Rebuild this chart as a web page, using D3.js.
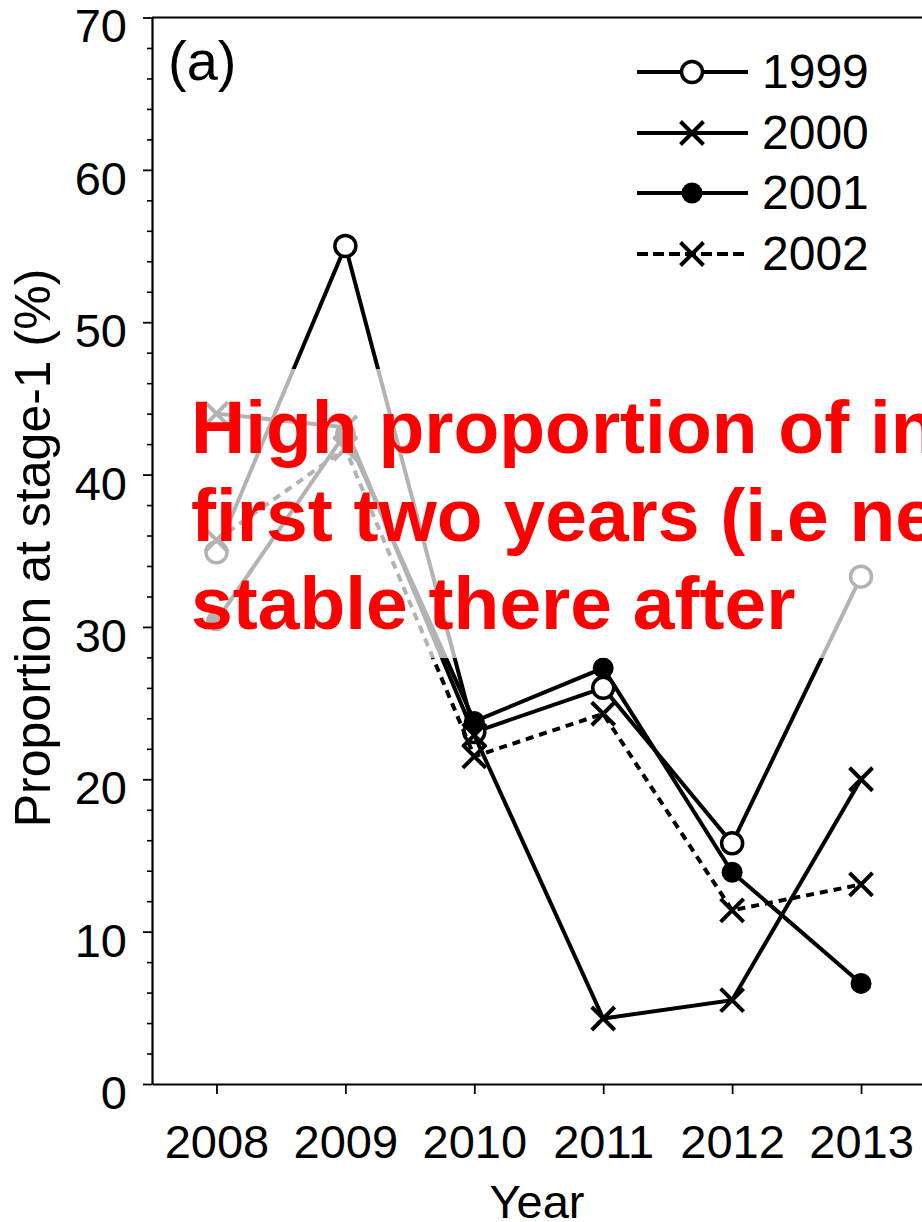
<!DOCTYPE html>
<html>
<head>
<meta charset="utf-8">
<script src="https://cdn.jsdelivr.net/npm/d3@7"></script>
<style>
  html, body { margin: 0; padding: 0; background: #fff; }
  svg { display: block; font-family: "Liberation Sans", Arial, Helvetica, sans-serif; }
</style>
</head>
<body>
<svg id="chart" width="922" height="1222"></svg>
<script>
// Proportion of each cohort at stage-1, by survey year (%)
const years = [2008, 2009, 2010, 2011, 2012, 2013];
const cohort1999 = [34.9, 55.0, 23.1, 26.0, 15.8, 33.3];
const cohort2000 = [44.0, 43.1, 22.9, 4.3, 5.5, 20.0];
const cohort2001 = [30.4, 42.7, 23.8, 27.3, 13.9, 6.6];
const cohort2002 = [35.7, 41.7, 21.5, 24.3, 11.4, 13.1];
const cohortNames = ["1999", "2000", "2001", "2002"];
const yTickValues = [0, 10, 20, 30, 40, 50, 60, 70];
const noteLines = [
  "High proportion of individuals in the",
  "first two years (i.e new recruits) and",
  "stable there after"
];

const cohortValues = [cohort1999, cohort2000, cohort2001, cohort2002];
// marker kind and dash pattern per cohort
const markerKind = ["open", "cross", "filled", "cross"];
const dashKind = [null, null, null, "8,6"];

const svg = d3.select("#chart");
const W = 922, H = 1222;
const plot = { left: 152, right: 925.5, top: 17.5, bottom: 1084 };

const x = d3.scaleLinear().domain([2007.5, 2013.5]).range([plot.left, plot.right]);
const y = d3.scaleLinear().domain([0, 70]).range([plot.bottom, plot.top]);

const FONT = 47;

// ---- frame (top and right edges) ----
svg.append("path")
  .attr("d", `M${plot.left},${plot.top}H${plot.right}V${plot.bottom}`)
  .attr("fill", "none").attr("stroke", "#000").attr("stroke-width", 2.2);

// ---- y axis ----
const yAxis = svg.append("g")
  .attr("transform", `translate(${plot.left},0)`)
  .call(d3.axisLeft(y).tickValues(yTickValues).tickSize(9).tickPadding(16).tickSizeOuter(0));
yAxis.select(".domain").attr("stroke-width", 2.2);
yAxis.selectAll(".tick line").attr("stroke-width", 1.8);
yAxis.selectAll(".tick text")
  .attr("font-size", FONT).attr("fill", "#000").attr("dy", "0.52em");

// minor ticks every 2 units
const minorValues = d3.range(2, 70, 2).filter(v => v % 10 !== 0);
const yMinor = svg.append("g")
  .attr("transform", `translate(${plot.left},0)`)
  .call(d3.axisLeft(y).tickValues(minorValues).tickSize(5).tickFormat(() => "").tickSizeOuter(0));
yMinor.select(".domain").remove();
yMinor.selectAll(".tick line").attr("stroke-width", 1.6);

// ---- x axis ----
const xAxis = svg.append("g")
  .attr("transform", `translate(0,${plot.bottom})`)
  .call(d3.axisBottom(x).tickValues(years).tickFormat(d3.format("d"))
    .tickSize(10).tickPadding(31).tickSizeOuter(0));
xAxis.select(".domain").attr("stroke-width", 2.2);
xAxis.selectAll(".tick line").attr("stroke-width", 1.8);
xAxis.selectAll(".tick text").attr("font-size", FONT).attr("fill", "#000");

// ---- axis titles ----
svg.append("text")
  .attr("x", 537).attr("y", 1218)
  .attr("text-anchor", "middle").attr("font-size", FONT)
  .text("Year");

svg.append("text")
  .attr("transform", "translate(50,548) rotate(-90)")
  .attr("text-anchor", "middle").attr("font-size", 50)
  .text("Proportion at stage-1 (%)");

// panel tag
svg.append("text")
  .attr("x", 168).attr("y", 80)
  .attr("font-size", 56)
  .text("(a)");

// ---- markers ----
function drawMarker(g, kind, cx, cy) {
  if (kind === "open") {
    g.append("circle").attr("cx", cx).attr("cy", cy).attr("r", 10.5)
      .attr("fill", "#fff").attr("stroke", "#000").attr("stroke-width", 3.5);
  } else if (kind === "filled") {
    g.append("circle").attr("cx", cx).attr("cy", cy).attr("r", 10.5)
      .attr("fill", "#000");
  } else {
    const a = 11.5;
    g.append("path")
      .attr("d", `M${cx - a},${cy - a}L${cx + a},${cy + a}M${cx - a},${cy + a}L${cx + a},${cy - a}`)
      .attr("stroke", "#000").attr("stroke-width", 4).attr("fill", "none");
  }
}

// ---- series ----
const line = d3.line().x((d, i) => x(years[i])).y(d => y(d));
const seriesLayer = svg.append("g");
cohortValues.forEach((vals, k) => {
  const g = seriesLayer.append("g");
  g.append("path")
    .attr("d", line(vals))
    .attr("fill", "none").attr("stroke", "#000").attr("stroke-width", 4)
    .attr("stroke-dasharray", dashKind[k]);
  vals.forEach((v, i) => drawMarker(g, markerKind[k], x(years[i]), y(v)));
});

// ---- legend ----
const legend = svg.append("g");
const legendRows = [72, 133, 193, 254];
cohortNames.forEach((name, k) => {
  const ry = legendRows[k];
  legend.append("line")
    .attr("x1", 637).attr("x2", 748).attr("y1", ry).attr("y2", ry)
    .attr("stroke", "#000").attr("stroke-width", 4)
    .attr("stroke-dasharray", dashKind[k] ? "11,5" : null);
  drawMarker(legend, markerKind[k], 692, ry);
  legend.append("text")
    .attr("x", 762).attr("y", ry + 15.5)
    .attr("font-size", 48)
    .text(name);
});

// ---- annotation: translucent panel with red note ----
svg.append("rect")
  .attr("x", 183).attr("y", 369)
  .attr("width", W - 183 + 10).attr("height", 658 - 369)
  .attr("fill", "#fff").attr("fill-opacity", 0.7);

const note = svg.append("text")
  .attr("font-size", 75).attr("font-weight", "bold").attr("fill", "#ff0000");
noteLines.forEach((t, i) => {
  note.append("tspan").attr("x", 191).attr("y", 453 + i * 88).text(t);
});
</script>
</body>
</html>
